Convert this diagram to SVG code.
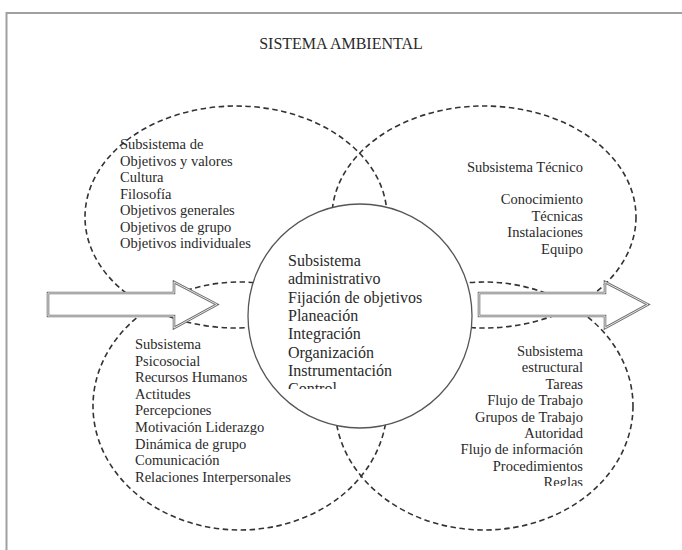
<svg xmlns="http://www.w3.org/2000/svg" width="682" height="550" viewBox="0 0 682 550">
  <style>
    .bg { fill: #ffffff; }
    .frame { stroke: #a0a0a0; stroke-width: 2; fill: none; }
    .dash { fill: none; stroke: #333333; stroke-width: 1.6; stroke-dasharray: 5.5 3.5; }
    .core { fill: #ffffff; stroke: #555555; stroke-width: 1.3; }
    .arrow-out { fill: #ffffff; stroke: #707070; stroke-width: 2.6; stroke-linejoin: miter; }
    .arrow-in { fill: none; stroke: #f2f2f2; stroke-width: 0.9; stroke-linejoin: miter; }
    text { font-family: "Liberation Serif", "Times New Roman", serif; fill: #2a2a2a; }
    .t { font-size: 14.5px; }
    .big { font-size: 16px; }
    .title { font-size: 16px; }
  </style>
  <defs>
    <clipPath id="clipCore"><rect x="240" y="200" width="240" height="189"/></clipPath>
    <clipPath id="clipStruct"><rect x="400" y="330" width="240" height="156"/></clipPath>
    <polygon id="arrowShape" points="0,0 126,0 126,-11 169,11.5 126,35 126,23 0,23"/>
  </defs>

  <rect class="bg" x="0" y="0" width="682" height="550"/>

  <!-- page frame -->
  <path class="frame" d="M6.5,550 L6.5,13 L682,13"/>

  <g id="title">
    <text class="title" x="341" y="49" text-anchor="middle">SISTEMA AMBIENTAL</text>
  </g>

  <!-- four surrounding subsystems -->
  <g id="sub-objetivos">
    <ellipse class="dash" cx="236" cy="217" rx="151" ry="111"/>
  </g>
  <g id="sub-tecnico">
    <ellipse class="dash" cx="484" cy="217" rx="152" ry="111"/>
  </g>
  <g id="sub-psicosocial">
    <ellipse class="dash" cx="240" cy="406" rx="147" ry="124"/>
  </g>
  <g id="sub-estructural">
    <ellipse class="dash" cx="484" cy="406" rx="149" ry="124"/>
  </g>

  <!-- central subsystem -->
  <g id="sub-administrativo">
    <circle class="core" cx="360" cy="316" r="112"/>
    <g clip-path="url(#clipCore)" class="big">
      <text x="288" y="266">Subsistema</text>
      <text x="288" y="284.3">administrativo</text>
      <text x="288" y="302.6">Fijación de objetivos</text>
      <text x="288" y="320.9">Planeación</text>
      <text x="288" y="339.2">Integración</text>
      <text x="288" y="357.5">Organización</text>
      <text x="288" y="375.8">Instrumentación</text>
      <text x="288" y="394.1">Control</text>
    </g>
  </g>

  <!-- labels of the surrounding subsystems -->
  <g id="labels-objetivos" class="t">
    <text x="120" y="149">Subsistema de</text>
    <text x="120" y="165.5">Objetivos y valores</text>
    <text x="120" y="182">Cultura</text>
    <text x="120" y="198.5">Filosofía</text>
    <text x="120" y="215">Objetivos generales</text>
    <text x="120" y="231.5">Objetivos de grupo</text>
    <text x="120" y="248">Objetivos individuales</text>
  </g>
  <g id="labels-tecnico" class="t" text-anchor="end">
    <text x="583" y="172">Subsistema Técnico</text>
    <text x="583" y="204">Conocimiento</text>
    <text x="583" y="220.5">Técnicas</text>
    <text x="583" y="237">Instalaciones</text>
    <text x="583" y="253.5">Equipo</text>
  </g>
  <g id="labels-psicosocial" class="t">
    <text x="135" y="349">Subsistema</text>
    <text x="135" y="365.6">Psicosocial</text>
    <text x="135" y="382.2">Recursos Humanos</text>
    <text x="135" y="398.8">Actitudes</text>
    <text x="135" y="415.4">Percepciones</text>
    <text x="135" y="432">Motivación Liderazgo</text>
    <text x="135" y="448.6">Dinámica de grupo</text>
    <text x="135" y="465.2">Comunicación</text>
    <text x="135" y="481.8">Relaciones Interpersonales</text>
  </g>
  <g id="labels-estructural" class="t" text-anchor="end" clip-path="url(#clipStruct)">
    <text x="583" y="356">Subsistema</text>
    <text x="583" y="372.4">estructural</text>
    <text x="583" y="388.8">Tareas</text>
    <text x="583" y="405.2">Flujo de Trabajo</text>
    <text x="583" y="421.6">Grupos de Trabajo</text>
    <text x="583" y="438">Autoridad</text>
    <text x="583" y="454.4">Flujo de información</text>
    <text x="583" y="470.8">Procedimientos</text>
    <text x="583" y="487.2">Reglas</text>
  </g>

  <!-- input and output flows -->
  <g id="connectors">
    <g transform="translate(48,293)">
      <use href="#arrowShape" class="arrow-out"/>
      <use href="#arrowShape" class="arrow-in"/>
    </g>
    <g transform="translate(479,293)">
      <use href="#arrowShape" class="arrow-out"/>
      <use href="#arrowShape" class="arrow-in"/>
    </g>
  </g>
</svg>
